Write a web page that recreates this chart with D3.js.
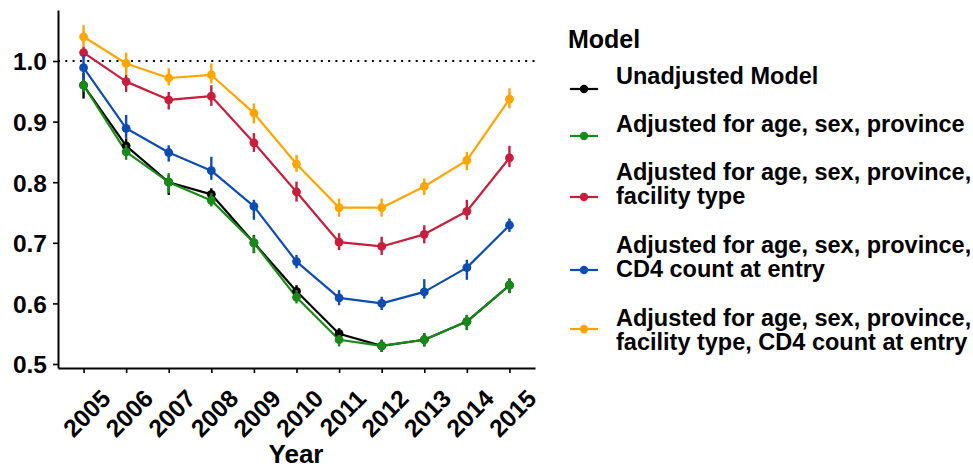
<!DOCTYPE html>
<html><head><meta charset="utf-8">
<script src="https://cdn.jsdelivr.net/npm/d3@7"></script>
<style>
body{margin:0;background:#fff;}
text{font-family:"Liberation Sans",Arial,Helvetica,sans-serif;font-weight:bold;fill:#000;}
</style></head>
<body><svg id="c" width="973" height="472"></svg>
<script>
const years = ["2005","2006","2007","2008","2009","2010","2011","2012","2013","2014","2015"];
const yTicks = [0.5,0.6,0.7,0.8,0.9,1.0];
const seriesNames = [
  ["Unadjusted Model"],
  ["Adjusted for age, sex, province"],
  ["Adjusted for age, sex, province,","facility type"],
  ["Adjusted for age, sex, province,","CD4 count at entry"],
  ["Adjusted for age, sex, province,","facility type, CD4 count at entry"]
];
const seriesColors = ["#000000","#178A17","#C81E3C","#0D4DB3","#FFA500"];

const unadjEst = [0.96,0.86,0.80,0.78,0.70,0.62,0.55,0.53,0.54,0.57,0.63];
const unadjLo  = [0.938,0.845,0.779,0.77,0.683,0.605,0.545,0.52,0.529,0.556,0.617];
const unadjHi  = [0.98,0.872,0.812,0.79,0.713,0.63,0.559,0.54,0.551,0.581,0.641];

const provEst = [0.96,0.85,0.80,0.77,0.70,0.61,0.54,0.53,0.54,0.57,0.63];
const provLo  = [0.949,0.837,0.782,0.76,0.683,0.600,0.529,0.52,0.529,0.556,0.617];
const provHi  = [0.975,0.862,0.815,0.782,0.712,0.622,0.548,0.54,0.551,0.581,0.641];

const facEst = [1.014,0.966,0.936,0.942,0.865,0.784,0.701,0.694,0.714,0.752,0.840];
const facLo  = [1.004,0.949,0.920,0.926,0.850,0.768,0.688,0.680,0.699,0.738,0.825];
const facHi  = [1.024,0.977,0.949,0.960,0.881,0.801,0.716,0.710,0.729,0.771,0.860];

const cd4Est = [0.989,0.889,0.849,0.819,0.760,0.669,0.609,0.600,0.619,0.659,0.729];
const cd4Lo  = [0.970,0.872,0.834,0.804,0.738,0.658,0.597,0.589,0.608,0.639,0.718];
const cd4Hi  = [1.010,0.911,0.861,0.842,0.771,0.680,0.622,0.611,0.640,0.672,0.740];

const fullEst = [1.040,0.996,0.972,0.977,0.914,0.830,0.758,0.758,0.793,0.836,0.937];
const fullLo  = [1.024,0.977,0.960,0.963,0.897,0.817,0.743,0.743,0.779,0.820,0.922];
const fullHi  = [1.059,1.014,0.988,0.996,0.930,0.845,0.773,0.773,0.806,0.850,0.955];

const refValue = 1.0;

const series = [
  {name:seriesNames[0],color:seriesColors[0],est:unadjEst,lo:unadjLo,hi:unadjHi},
  {name:seriesNames[1],color:seriesColors[1],est:provEst,lo:provLo,hi:provHi},
  {name:seriesNames[2],color:seriesColors[2],est:facEst,lo:facLo,hi:facHi},
  {name:seriesNames[3],color:seriesColors[3],est:cd4Est,lo:cd4Lo,hi:cd4Hi},
  {name:seriesNames[4],color:seriesColors[4],est:fullEst,lo:fullLo,hi:fullHi}
];

const svg = d3.select("#c");
const x = d3.scalePoint().domain(years).range([58,535]).padding(0.6);
const y = d3.scaleLinear().domain([0.4934,1.0842]).range([368,10]);

// reference line
svg.append("line").attr("x1",58).attr("x2",535).attr("y1",y(refValue)).attr("y2",y(refValue))
  .attr("stroke","#000").attr("stroke-width",2).attr("stroke-dasharray","2,5.3");

// lines
const line = d3.line().x((d,i)=>x(years[i])).y(d=>y(d));
series.forEach(s=>{
  svg.append("path").attr("d",line(s.est)).attr("fill","none")
    .attr("stroke",s.color).attr("stroke-width",2.2).attr("stroke-linejoin","round");
});
// pointranges
series.forEach(s=>{
  const g = svg.append("g");
  years.forEach((yr,i)=>{
    g.append("line").attr("x1",x(yr)).attr("x2",x(yr)).attr("y1",y(s.lo[i])).attr("y2",y(s.hi[i]))
      .attr("stroke",s.color).attr("stroke-width",2.4);
    g.append("circle").attr("cx",x(yr)).attr("cy",y(s.est[i])).attr("r",4.4).attr("fill",s.color);
  });
});

// axes
const yAxis = svg.append("g").attr("transform","translate(58,0)")
  .call(d3.axisLeft(y).tickValues(yTicks).tickFormat(d3.format(".1f")).tickSize(5).tickSizeOuter(0).tickPadding(6));
yAxis.selectAll("text").style("font-size","24.5px").attr("dy","0.36em");
const xAxis = svg.append("g").attr("transform","translate(0,368)")
  .call(d3.axisBottom(x).tickSize(5).tickSizeOuter(0));
xAxis.selectAll("text").style("font-size","24.5px")
  .attr("text-anchor","end").attr("dy",null).attr("y",null)
  .attr("transform","translate(28,32) rotate(-45)");
svg.selectAll(".domain").attr("stroke","#000").attr("stroke-width",2);
svg.selectAll(".tick line").attr("stroke","#000").attr("stroke-width",1.6);

svg.append("text").attr("x",296).attr("y",463).attr("text-anchor","middle").style("font-size","26px").text("Year");

// legend
svg.append("text").attr("x",568).attr("y",48).style("font-size","25px").text("Model");
const keyY = [89,136,197,270,329];
const textY = [84,132,180,253,326];
series.forEach((s,i)=>{
  svg.append("line").attr("x1",570).attr("x2",598).attr("y1",keyY[i]).attr("y2",keyY[i])
    .attr("stroke",s.color).attr("stroke-width",2.2);
  svg.append("circle").attr("cx",584).attr("cy",keyY[i]).attr("r",4.2).attr("fill",s.color);
  const t = svg.append("text").attr("x",616).attr("y",textY[i]).style("font-size","23.5px");
  s.name.forEach((ln,j)=>{
    t.append("tspan").attr("x",616).attr("dy",j===0?0:24.2).text(ln);
  });
});
</script></body></html>
